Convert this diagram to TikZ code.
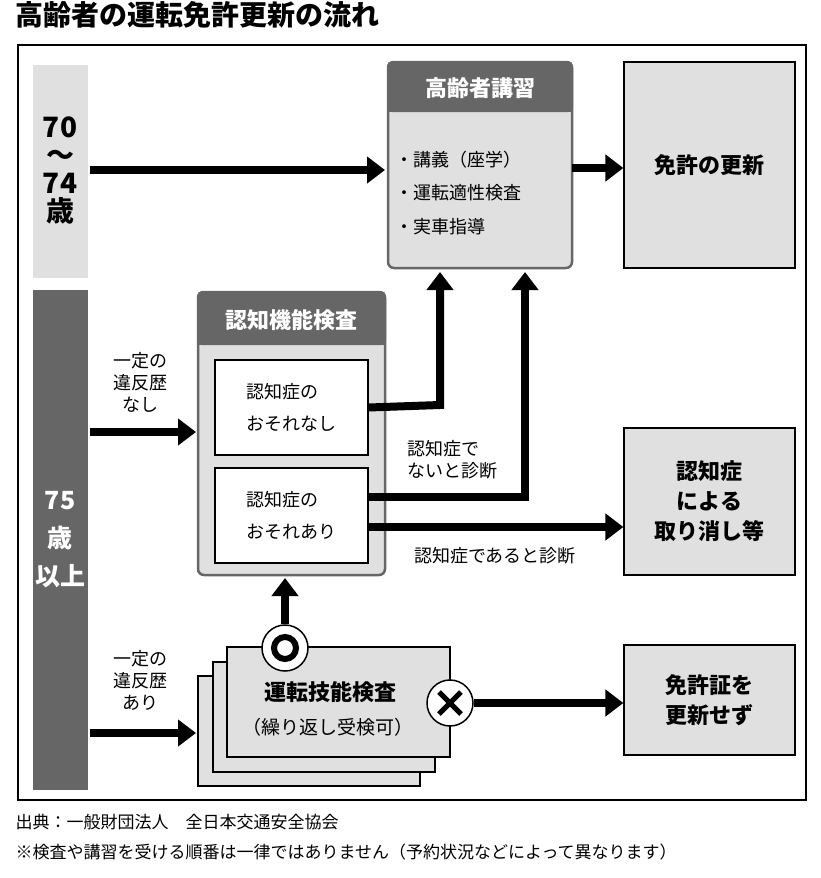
\documentclass[tikz,border=0pt]{standalone}
\usepackage{fontspec}
\setmainfont{Noto Sans CJK JP}
\usetikzlibrary{arrows.meta}
\definecolor{lgray}{gray}{0.88}
\definecolor{dgray}{gray}{0.4}
\tikzset{
  bigarrow/.style={line width=8pt,-{Triangle[length=18pt,width=26pt]}},
  resultbox/.style={draw,fill=lgray,line width=1.2pt},
  groupbox/.style={draw=dgray,fill=lgray,line width=2.5pt,rounded corners=6pt},
  headbar/.style={fill=dgray,rounded corners=5pt},
  innerbox/.style={draw,fill=white,line width=1.2pt},
  txt/.style={font=\bfseries\fontsize{22}{30}\selectfont,align=center},
  small/.style={font=\fontsize{18}{22}\selectfont,align=left}
}
\begin{document}
\begin{tikzpicture}[x=1pt,y=-1pt]
	\useasboundingbox (0,0) rectangle (820,878);
	\node[anchor=north west,font=\bfseries\fontsize{28}{32}\selectfont] (title) at (12,-2) {高齢者の運転免許更新の流れ};
	\draw[line width=1.5pt] (18,45) rectangle (806,800);
	% age bars
	\fill[lgray] (33,65) rectangle (88,278);
	\node[font=\bfseries\fontsize{28}{28}\selectfont,align=center] (age1) at (60,170) {70\\〜\\74\\歳};
	\fill[dgray] (33,290) rectangle (88,790);
	\node[font=\bfseries\fontsize{25}{38}\selectfont,align=center,text=white] (age2) at (60,540) {75\\歳\\以上};
	% koshu
	\draw[groupbox] (388,62) rectangle (572,268);
	\fill[headbar] (387,61) rectangle (573,112);
	\fill[dgray] (387,100) rectangle (573,112);
	\node[txt,text=white] (koshu) at (480,88) {高齢者講習};
	\node[small,anchor=west] (k1) at (392,160) {・講義（座学）};
	\node[small,anchor=west] (k2) at (392,193) {・運転適性検査};
	\node[small,anchor=west] (k3) at (392,227) {・実車指導};
	\coordinate (kr) at (572,168);
	% results
	\node[resultbox,minimum width=171pt,minimum height=206pt,txt] (koshin) at (709.5,165) {免許の更新};
	\node[resultbox,minimum width=171pt,minimum height=147pt,txt] (torikeshi) at (709.5,501.5) {認知症\\による\\取り消し等};
	\node[resultbox,minimum width=171pt,minimum height=110pt,txt] (sezu) at (709.5,700) {免許証を\\更新せず};
	% ninchi
	\draw[groupbox] (198,292) rectangle (385,575);
	\fill[headbar] (197,291) rectangle (386,345);
	\fill[dgray] (197,333) rectangle (386,345);
	\node[txt,text=white] (ninchi) at (291,320) {認知機能検査};
	\node[innerbox,minimum width=153pt,minimum height=95pt,small,font=\fontsize{18}{32}\selectfont] (nashi) at (291.5,407.5) {認知症の\\おそれなし};
	\node[innerbox,minimum width=153pt,minimum height=95pt,small,font=\fontsize{18}{32}\selectfont] (ari) at (291.5,515.5) {認知症の\\おそれあり};
	% gino
	\draw[resultbox,line width=1.5pt] (198,676) rectangle (420,786);
	\draw[resultbox,line width=1.5pt] (213,662) rectangle (435,772);
	\node[resultbox,line width=1.5pt,minimum width=223pt,minimum height=110pt] (gino) at (338.5,702) {};
	\node[txt] (ginot) at (330,692) {運転技能検査};
	\node[small,font=\fontsize{19}{22}\selectfont] (ginos) at (328,727) {（繰り返し受検可）};
	\node[circle,draw,line width=1.5pt,fill=white,minimum size=46pt,inner sep=0pt] (ok) at (285,648) {};
	\draw[line width=6pt] (ok.center) circle (11pt);
	\node[circle,draw,line width=1.5pt,fill=white,minimum size=46pt,inner sep=0pt] (ng) at (450,703) {};
	\draw[line width=5pt] (ng.center) ++(-11,-11) -- ++(22,22) (ng.center) ++(-11,11) -- ++(22,-22);
	% left labels
	\node[small,align=center] (nashil) at (140,382) {一定の\\違反歴\\なし};
	\node[small,align=center] (aril) at (140,680) {一定の\\違反歴\\あり};
	\coordinate (a1) at (90,170);
	\coordinate (a2) at (90,432);
	\coordinate (a3) at (90,733);
	% arrows
	\draw[bigarrow] (a1) -- (385,170);
	\draw[bigarrow] (kr) -- (koshin.west |- kr);
	\draw[bigarrow] (a2) -- (196,432);
	\draw[bigarrow] (a3) -- (196,733);
	\draw[bigarrow] (nashi.east) -- (440,405) -- (440,272);
	\draw[bigarrow] (ari.east |- 0,497) -- (525,497) -- (525,272);
	\draw[bigarrow] (ari.east |- 0,527) -- (torikeshi.west |- 0,527);
	\draw[bigarrow] (ok.north) -- (285,578);
	\draw[bigarrow] (ng.east) -- (sezu.west |- ng.east);
	\node[small,align=left] (nai) at (452,460) {認知症で\\ないと診断};
	\node[small] (aru) at (495,556) {認知症であると診断};
	% notes
	\node[small,anchor=west,font=\fontsize{17}{20}\selectfont] (src) at (12,822) {出典：一般財団法人　全日本交通安全協会};
	\node[small,anchor=west,font=\fontsize{17}{20}\selectfont] (note) at (12,852) {※検査や講習を受ける順番は一律ではありません（予約状況などによって異なります）};
\end{tikzpicture}
\end{document}
